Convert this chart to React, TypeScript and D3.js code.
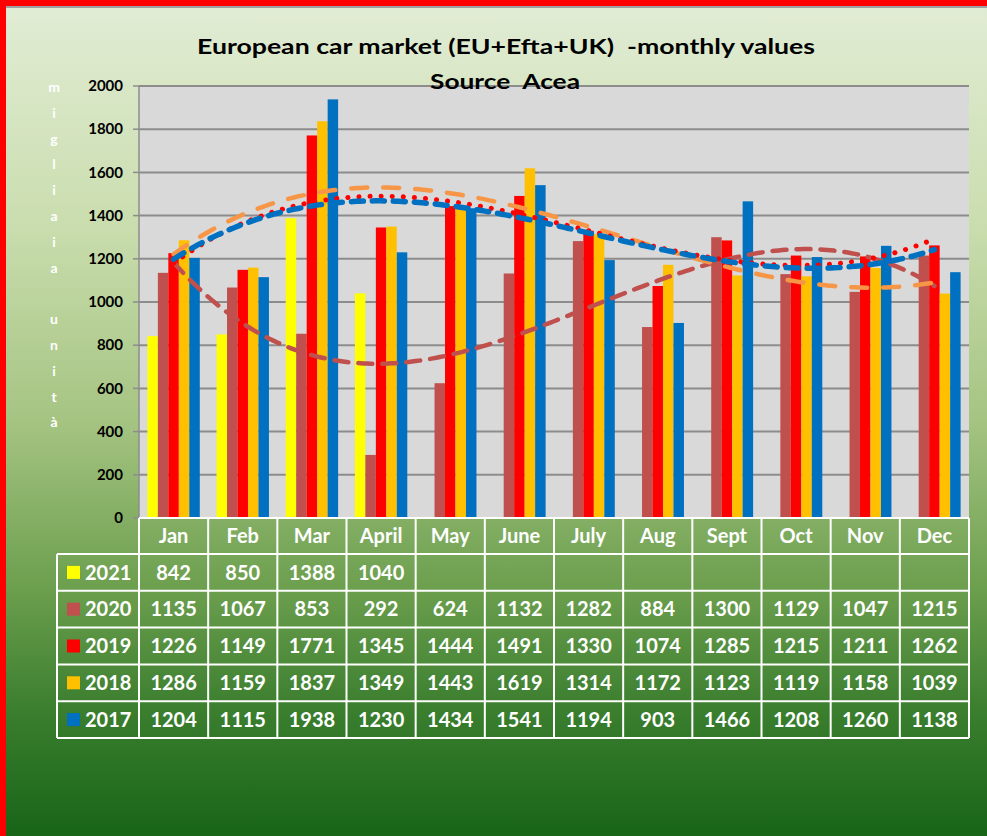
import React from "react";
import * as d3 from "d3";

const months = ["Jan", "Feb", "Mar", "April", "May", "June", "July", "Aug", "Sept", "Oct", "Nov", "Dec"];
const seriesNames = ["2021", "2020", "2019", "2018", "2017"];
const v2021: (number | null)[] = [842, 850, 1388, 1040, null, null, null, null, null, null, null, null];
const v2020 = [1135, 1067, 853, 292, 624, 1132, 1282, 884, 1300, 1129, 1047, 1215];
const v2019 = [1226, 1149, 1771, 1345, 1444, 1491, 1330, 1074, 1285, 1215, 1211, 1262];
const v2018 = [1286, 1159, 1837, 1349, 1443, 1619, 1314, 1172, 1123, 1119, 1158, 1039];
const v2017 = [1204, 1115, 1938, 1230, 1434, 1541, 1194, 903, 1466, 1208, 1260, 1138];
const yTicks = [0, 200, 400, 600, 800, 1000, 1200, 1400, 1600, 1800, 2000];
const yLabel = ["m", "i", "g", "l", "i", "a", "i", "a", "", "u", "n", "i", "t", "à"];
const title1 = "European car market (EU+Efta+UK)  -monthly values";
const title2 = "Source  Acea";

const seriesValues = [v2021, v2020, v2019, v2018, v2017];
const colors = ["#ffff00", "#c0504d", "#ff0000", "#ffc000", "#0070c0"];

const W = 987, H = 836;
const L = 139, R = 969, T = 86, B = 518;
const FONT = "Lato, 'Open Sans', sans-serif";

function polyFit(ys: number[], order: number): number[] {
  const n = order + 1;
  const A: number[][] = Array.from({ length: n }, () => new Array(n + 1).fill(0));
  ys.forEach((y, i) => {
    const x = i + 1;
    for (let r = 0; r < n; r++) {
      for (let c = 0; c < n; c++) A[r][c] += Math.pow(x, r + c);
      A[r][n] += y * Math.pow(x, r);
    }
  });
  for (let i = 0; i < n; i++) {
    let p = i;
    for (let k = i + 1; k < n; k++) if (Math.abs(A[k][i]) > Math.abs(A[p][i])) p = k;
    [A[i], A[p]] = [A[p], A[i]];
    for (let k = i + 1; k < n; k++) {
      const f = A[k][i] / A[i][i];
      for (let c = i; c <= n; c++) A[k][c] -= f * A[i][c];
    }
  }
  const coef = new Array(n).fill(0);
  for (let i = n - 1; i >= 0; i--) {
    let s = A[i][n];
    for (let c = i + 1; c < n; c++) s -= A[i][c] * coef[c];
    coef[i] = s / A[i][i];
  }
  return coef;
}

const trends = [
  { vals: v2020, color: "#c0504d", dash: "14 10", width: 4.5, cap: "round" },
  { vals: v2018, color: "#f79646", dash: "16 16", width: 4.5, cap: "round" },
  { vals: v2019, color: "#ff0000", dash: "0.1 11", width: 5, cap: "round" },
  { vals: v2017, color: "#0070c0", dash: "12 9", width: 5.5, cap: "round" },
];

export default function App() {
  const x = d3.scaleBand<string>().domain(months).range([L, R]).paddingInner(0).paddingOuter(0);
  const xi = d3.scaleBand<string>().domain(seriesNames).range([0, x.bandwidth()]).paddingInner(0).paddingOuter(0.8);
  const y = d3.scaleLinear().domain([0, 2000]).range([B, T]);

  const trendPaths = trends.map((t) => {
    const coef = polyFit(t.vals, 3);
    const pts: [number, number][] = [];
    for (let s = 0; s <= 220; s++) {
      const xv = 1 + (11 * s) / 220;
      let yv = 0;
      coef.forEach((c, k) => (yv += c * Math.pow(xv, k)));
      const px = (x(months[0])! + x.bandwidth() / 2) + (xv - 1) * x.step();
      pts.push([px, y(yv)]);
    }
    return { ...t, d: d3.line()(pts)! };
  });

  const rowTop = 554;
  const rowH = 36.8;
  const tableLeft = 57;
  const fs = 20;

  return (
    <svg width={W} height={H} style={{ position: "absolute", left: 0, top: 0 }} fontFamily={FONT}>
      <defs>
        <linearGradient id="bg" x1="0" y1="0" x2="0" y2="1">
          <stop offset="0" stopColor="#e1ecd4" />
          <stop offset="0.25" stopColor="#cbdeb0" />
          <stop offset="0.5" stopColor="#a5c482" />
          <stop offset="0.7" stopColor="#6c9f4e" />
          <stop offset="0.85" stopColor="#3a7e2e" />
          <stop offset="1" stopColor="#186518" />
        </linearGradient>
      </defs>
      <rect x={0} y={0} width={W} height={H} fill="#ff0000" />
      <rect x={6} y={6} width={W - 6} height={2} fill="#a0a0a0" />
      <rect x={6} y={8} width={W - 6} height={H - 8} fill="url(#bg)" />

      {/* plot area */}
      <rect x={L} y={T} width={R - L} height={B - T} fill="#d9d9d9" />
      {yTicks.map((t) => (
        <g key={t}>
          {t > 0 && <line x1={L} x2={R} y1={y(t)} y2={y(t)} stroke="#8c8c8c" strokeWidth={2} />}
          <line x1={L - 6} x2={L} y1={y(t)} y2={y(t)} stroke="#8c8c8c" strokeWidth={1.5} />
          <text x={123} y={y(t)} dy="0.35em" textAnchor="end" fontSize={15} fontWeight="bold" fill="#000">
            {t}
          </text>
        </g>
      ))}
      <line x1={L} x2={L} y1={T} y2={B} stroke="#8c8c8c" strokeWidth={1.5} />

      {/* bars */}
      {seriesNames.map((s, si) =>
        months.map((m, mi) => {
          const v = seriesValues[si][mi];
          if (v == null) return null;
          return (
            <rect
              key={s + m}
              x={x(m)! + xi(s)!}
              y={y(v)}
              width={xi.bandwidth()}
              height={y(0) - y(v)}
              fill={colors[si]}
            />
          );
        })
      )}

      {/* trend lines */}
      {trendPaths.map((t, i) => (
        <path
          key={i}
          d={t.d}
          fill="none"
          stroke={t.color}
          strokeWidth={t.width}
          strokeDasharray={t.dash}
          strokeLinecap={t.cap as any}
        />
      ))}

      {/* title */}
      <text x={506} y={54} textAnchor="middle" fontSize={20} fontWeight="bold" fill="#000"
        textLength={618} lengthAdjust="spacingAndGlyphs" style={{ whiteSpace: "pre" }}>
        {title1}
      </text>
      <text x={505} y={89} textAnchor="middle" fontSize={20} fontWeight="bold" fill="#000"
        textLength={150} lengthAdjust="spacingAndGlyphs" style={{ whiteSpace: "pre" }}>
        {title2}
      </text>

      {/* y label */}
      {yLabel.map((c, i) => (
        <text key={i} x={54} y={92 + i * 25.8} textAnchor="middle" fontSize={14} fontWeight="bold" fill="#ffffff">
          {c}
        </text>
      ))}

      {/* data table */}
      <g stroke="#ffffff" strokeWidth={2} fill="none">
        <line x1={L} x2={R} y1={B} y2={B} />
        {months.map((m) => (
          <line key={m} x1={x(m)!} x2={x(m)!} y1={B} y2={rowTop + rowH * 5} />
        ))}
        <line x1={R} x2={R} y1={B} y2={rowTop + rowH * 5} />
        <line x1={tableLeft} x2={tableLeft} y1={rowTop} y2={rowTop + rowH * 5} />
        {d3.range(6).map((r) => (
          <line key={r} x1={tableLeft} x2={R} y1={rowTop + r * rowH} y2={rowTop + r * rowH} />
        ))}
      </g>
      {months.map((m) => (
        <text key={m} x={x(m)! + x.bandwidth() / 2} y={(B + rowTop) / 2} dy="0.36em" textAnchor="middle" fontSize={fs} fontWeight="bold" fill="#ffffff">
          {m}
        </text>
      ))}
      {seriesNames.map((s, si) => (
        <g key={s}>
          <rect x={67} y={rowTop + si * rowH + rowH / 2 - 6.5} width={13} height={13} fill={colors[si]} />
          <text x={85} y={rowTop + si * rowH + rowH / 2} dy="0.36em" fontSize={fs} fontWeight="bold" fill="#ffffff">
            {s}
          </text>
          {months.map((m, mi) => {
            const v = seriesValues[si][mi];
            if (v == null) return null;
            return (
              <text key={m} x={x(m)! + x.bandwidth() / 2} y={rowTop + si * rowH + rowH / 2} dy="0.36em" textAnchor="middle" fontSize={fs} fontWeight="bold" fill="#ffffff">
                {v}
              </text>
            );
          })}
        </g>
      ))}
    </svg>
  );
}
